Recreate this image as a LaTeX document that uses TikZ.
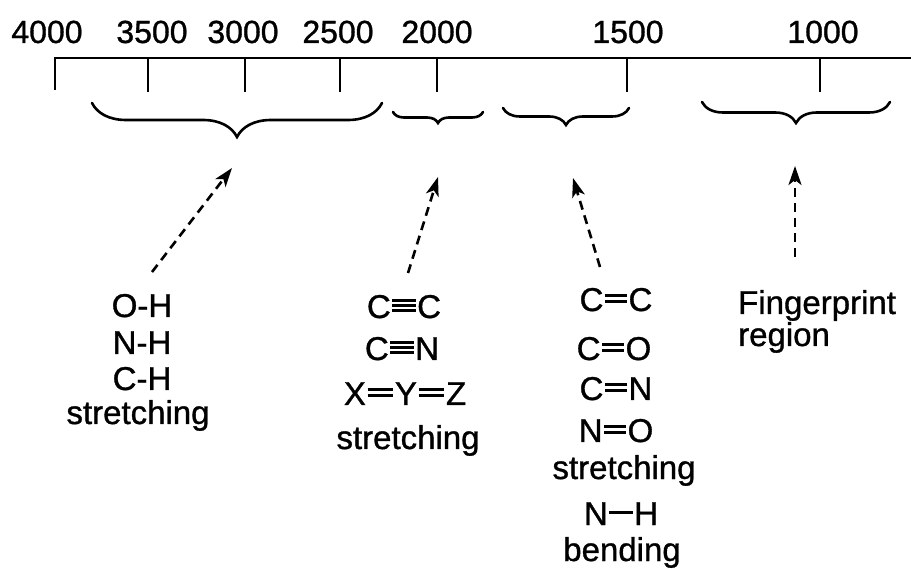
\documentclass[tikz,border=0pt]{standalone}
\usepackage{fontspec}
\setmainfont{Liberation Sans}[FakeBold=1]
\usetikzlibrary{arrows.meta,decorations.pathreplacing}
\newcommand{\bondrule}[2]{\raisebox{#2}{\rule{#1}{.09em}}}
\newcommand{\sbd}[1]{\kern.05em\bondrule{#1}{.32em}\kern.05em}
\newcommand{\dbd}[1]{\kern.05em\rlap{\bondrule{#1}{.23em}}\bondrule{#1}{.42em}\kern.05em}
\newcommand{\tbd}[1]{\kern.05em\rlap{\bondrule{#1}{.18em}}\rlap{\bondrule{#1}{.33em}}\bondrule{#1}{.48em}\kern.05em}
\begin{document}
\begin{tikzpicture}[x=1pt,y=1pt,
  lbl/.style={font=\fontsize{33}{38}\selectfont, inner sep=0pt, anchor=base},
  lbll/.style={lbl, anchor=base west},
  num/.style={font=\fontsize{32}{38}\selectfont, inner sep=0pt, anchor=base},
  axisline/.style={line width=2.6pt},
  bracestyle/.style={line width=2.6pt, line cap=round, decorate, decoration={brace,mirror,amplitude=#1}},
  dasharrow/.style={line width=2.6pt, dash pattern=on 9pt off 6pt, -{Stealth[length=19pt,width=13pt,inset=5pt]}}
]
\useasboundingbox (0,0) rectangle (911,-569);
% axis
\coordinate (ax0) at (55,-90);
\coordinate (ax1) at (55,-58);
\coordinate (ax2) at (911,-58);
\draw[axisline] (ax0) -- (ax1) -- (ax2);
\foreach \x/\n in {148/t35,245/t30,340/t25,437/t20,627/t15,820/t10}{
  \coordinate (\n a) at (\x,-58);
  \coordinate (\n b) at (\x,-92);
  \draw[axisline] (\n a) -- (\n b);
}
% numbers
\node[num] (n4000) at (47,-43) {4000};
\node[num] (n3500) at (152,-43) {3500};
\node[num] (n3000) at (243,-43) {3000};
\node[num] (n2500) at (338,-43) {2500};
\node[num] (n2000) at (437,-43) {2000};
\node[num] (n1500) at (628,-43) {1500};
\node[num] (n1000) at (823,-43) {1000};
% braces
\coordinate (b1l) at (92,-103);  \coordinate (b1r) at (382,-103);
\coordinate (b2l) at (393,-112); \coordinate (b2r) at (483,-112);
\coordinate (b3l) at (503,-108); \coordinate (b3r) at (629,-108);
\coordinate (b4l) at (702,-102); \coordinate (b4r) at (890,-102);
\draw[bracestyle=34] (b1l) -- (b1r);
\draw[bracestyle=11] (b2l) -- (b2r);
\draw[bracestyle=17] (b3l) -- (b3r);
\draw[bracestyle=21] (b4l) -- (b4r);
% block 1
\node[lbl] (oh) at (142,-317) {O-H};
\node[lbl] (nh) at (142,-354) {N-H};
\node[lbl] (ch) at (142,-390) {C-H};
\node[lbl] (st1) at (138,-424) {stretching};
% block 2
\node[lbl] (cc3) at (404,-318) {C\tbd{.7em}C};
\node[lbl] (cn3) at (402,-360) {C\tbd{.7em}N};
\node[lbl] (xyz) at (405,-405) {X\dbd{.78em}Y\dbd{.78em}Z};
\node[lbl] (st2) at (408,-449) {stretching};
% block 3
\node[lbl] (cc2) at (616,-311) {C\dbd{.66em}C};
\node[lbl] (co2) at (614,-360) {C\dbd{.66em}O};
\node[lbl] (cn2) at (616,-400) {C\dbd{.66em}N};
\node[lbl] (no2) at (616,-442) {N\dbd{.66em}O};
\node[lbl] (st3) at (624,-479) {stretching};
\node[lbl] (nhb) at (621,-525) {N\sbd{.7em}H};
\node[lbl] (bend) at (622,-561) {bending};
% block 4
\node[lbll] (fp) at (738,-314) {Fingerprint};
\node[lbll] (reg) at (738,-346) {region};
% arrows
\coordinate (a1s) at (152,-272); \coordinate (a1e) at (232,-168);
\coordinate (a2s) at (408,-273); \coordinate (a2e) at (438,-177);
\coordinate (a3s) at (600,-267); \coordinate (a3e) at (573,-178);
\coordinate (a4s) at (795,-257); \coordinate (a4e) at (795,-166);
\draw[dasharrow] (a1s) -- (a1e);
\draw[dasharrow] (a2s) -- (a2e);
\draw[dasharrow] (a3s) -- (a3e);
\draw[dasharrow] (a4s) -- (a4e);
\end{tikzpicture}
\end{document}
